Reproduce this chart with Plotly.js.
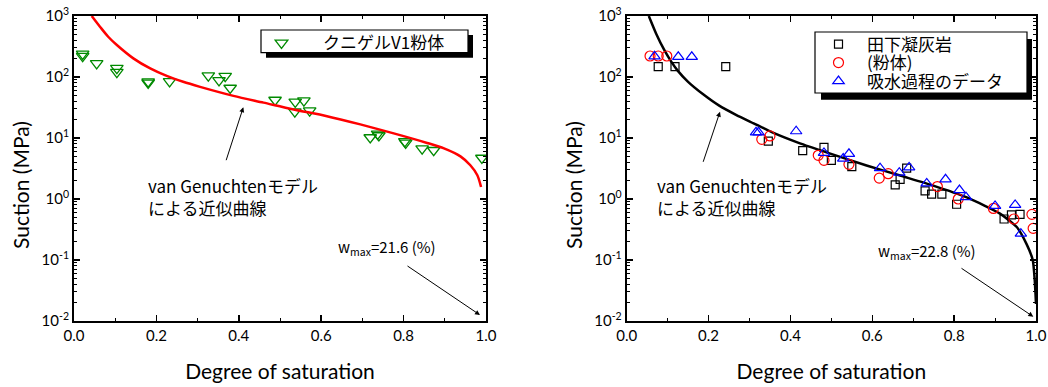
<!DOCTYPE html>
<html><head><meta charset="utf-8">
<script src="https://cdn.plot.ly/plotly-3.0.1.min.js"></script>
<style>html,body{margin:0;padding:0;background:#fff}</style>
</head><body>
<div id="chart" style="width:1048px;height:387px"></div>
<script>
// ---- data ----
const kunigelSat = [0.021,0.021,0.055,0.104,0.104,0.18,0.18,0.232,0.326,0.352,0.367,0.379,0.488,0.537,0.536,0.558,0.572,0.719,0.737,0.74,0.803,0.805,0.845,0.873,0.99];
const kunigelSuction = [240,220,167,140,120,84,80,85,105,88,103,66,42,39,27,41,28,10.2,11.7,11,8.8,8.3,6.7,6.3,4.7];
const vgLeftSat = [0.043,0.063,0.083,0.104,0.144,0.185,0.225,0.265,0.306,0.387,0.46,0.533,0.614,0.695,0.776,0.857,0.898,0.938,0.962,0.979,0.988];
const vgLeftSuction = [1000,668,457,334,202,138,104,83.4,69.0,49.1,38.0,29.4,22.8,16.7,11.9,8.3,6.76,5.0,3.57,2.45,1.57];

const tufSat = [0.077,0.118,0.242,0.346,0.43,0.482,0.50,0.55,0.656,0.668,0.684,0.729,0.745,0.77,0.806,0.922,0.94,0.961];
const tufSuction = [148,148,148,8.9,6.2,7.0,4.3,3.4,1.7,2.1,3.2,1.36,1.2,1.2,0.82,0.47,0.55,0.56];
const powderSat = [0.057,0.077,0.098,0.33,0.35,0.468,0.482,0.543,0.617,0.639,0.759,0.81,0.896,0.946,0.99,0.993];
const powderSuction = [221,221,221,9.5,10.8,5.2,4.3,3.7,2.2,2.6,1.6,1.0,0.7,0.47,0.56,0.33];
const wettingSat = [0.068,0.126,0.159,0.316,0.322,0.414,0.482,0.529,0.543,0.619,0.666,0.69,0.733,0.779,0.813,0.829,0.90,0.949,0.963];
const wettingSuction = [218,214,214,12.4,12.4,12.9,5.7,4.6,5.5,3.2,2.7,3.3,1.8,2.1,1.4,1.07,0.77,0.8,0.27];
const vgRightSat = [0.054,0.072,0.092,0.108,0.125,0.15,0.186,0.226,0.267,0.31,0.36,0.42,0.49,0.586,0.67,0.749,0.831,0.912,0.953,0.977,0.992,0.997,1.0];
const vgRightSuction = [1000,513,275,182,126,83.2,52.5,33.9,24.0,17.4,12.0,8.32,5.75,3.55,2.40,1.66,1.06,0.575,0.347,0.182,0.10,0.0457,0.019];

const xTickVals = [0,0.2,0.4,0.6,0.8,1.0];
const xTickText = ['0.0','0.2','0.4','0.6','0.8','1.0'];
const yTickVals = [0.01,0.1,1,10,100,1000];
const yTickText = ['10<sup>-2</sup>','10<sup>-1</sup>','10<sup>0</sup>','10<sup>1</sup>','10<sup>2</sup>','10<sup>3</sup>'];

const nameKunigel = 'クニゲルV1粉体';
const nameTuff = '田下凝灰岩';
const namePowder = '(粉体)';
const nameWetting = '吸水過程のデータ';
const xTitle = 'Degree of saturation';
const yTitle = 'Suction (MPa)';
const vgLabel = 'van Genuchtenモデル<br>による近似曲線';
const wLeft = 'w<sub>max</sub>=21.6 (%)';
const wRight = 'w<sub>max</sub>=22.8 (%)';

// ---- layout helpers ----
const W = 1048, H = 387;
const fx = p => p / W, fy = p => 1 - p / H;
const tickFont = {family: 'Lato, sans-serif', size: 15, color: '#000'};
const titleFont = {family: 'Lato, sans-serif', size: 21, color: '#000'};
const cjk = '"Noto Sans CJK JP", sans-serif';

function xAx(dom) {
  return {domain: dom, range: [0, 1], tickmode: 'array', tickvals: xTickVals, ticktext: xTickText,
    ticks: 'inside', ticklen: 6, tickwidth: 1.5, tickcolor: '#000',
    minor: {dtick: 0.1, ticks: 'inside', ticklen: 3, tickwidth: 1, tickcolor: '#000'},
    showline: true, linewidth: 2, linecolor: '#000', mirror: 'allticks',
    showgrid: false, zeroline: false, tickfont: tickFont,
    title: {text: xTitle, font: titleFont, standoff: 21}};
}
function yAx(dom, anchor) {
  return {domain: dom, anchor: anchor, type: 'log', range: [-2, 3], tickmode: 'array', tickvals: yTickVals, ticktext: yTickText,
    ticks: 'inside', ticklen: 6, tickwidth: 1.5, tickcolor: '#000',
    minor: {dtick: 'D1', ticks: 'inside', ticklen: 3, tickwidth: 1, tickcolor: '#000'},
    showline: true, linewidth: 2, linecolor: '#000', mirror: 'allticks',
    showgrid: false, zeroline: false, tickfont: tickFont};
}
const yDom = [fy(321), fy(16)];

const traces = [
  {x: kunigelSat, y: kunigelSuction, xaxis: 'x', yaxis: 'y', mode: 'markers', name: nameKunigel, legend: 'legend',
   marker: {symbol: 'triangle-down-open', size: 11, color: '#008a00', line: {width: 1.3}}},
  {x: vgLeftSat, y: vgLeftSuction, xaxis: 'x', yaxis: 'y', mode: 'lines', showlegend: false,
   line: {color: '#ff0000', width: 2.5, shape: 'spline', smoothing: 0.8}},
  {x: vgRightSat, y: vgRightSuction, xaxis: 'x2', yaxis: 'y2', mode: 'lines', showlegend: false,
   line: {color: '#000', width: 2.5, shape: 'spline', smoothing: 0.6}},
  {x: tufSat, y: tufSuction, xaxis: 'x2', yaxis: 'y2', mode: 'markers', name: nameTuff, legend: 'legend2',
   marker: {symbol: 'square-open', size: 8, color: '#000', line: {width: 1.2}}},
  {x: powderSat, y: powderSuction, xaxis: 'x2', yaxis: 'y2', mode: 'markers', name: namePowder, legend: 'legend3',
   marker: {symbol: 'circle-open', size: 10, color: '#ff0000', line: {width: 1.2}}},
  {x: wettingSat, y: wettingSuction, xaxis: 'x2', yaxis: 'y2', mode: 'markers', name: nameWetting, legend: 'legend4',
   marker: {symbol: 'triangle-up-open', size: 10, color: '#0000ff', line: {width: 1.2}}}
];

const legFont = {family: cjk, size: 17, color: '#000'};
function leg(xPx, yPx, iw) {
  return {x: fx(xPx), y: fy(yPx), xanchor: 'left', yanchor: 'middle', bgcolor: 'rgba(0,0,0,0)', borderwidth: 0,
          font: legFont, itemwidth: iw};
}
const layout = {
  width: W, height: H, margin: {l: 0, r: 0, t: 0, b: 0},
  paper_bgcolor: '#fff', plot_bgcolor: '#fff', showlegend: true,
  xaxis: xAx([fx(74), fx(486)]), yaxis: yAx(yDom, 'x'),
  xaxis2: xAx([fx(626.7), fx(1036)]), yaxis2: yAx(yDom, 'x2'),
  legend: leg(240, 43.3, 73),
  legend2: leg(810, 44.5, 47),
  legend3: leg(810, 63, 47),
  legend4: leg(810, 81.5, 47),
  shapes: [
    {type: 'rect', xref: 'paper', yref: 'paper', x0: fx(266), x1: fx(473), y0: fy(57.7), y1: fy(35), fillcolor: '#000', line: {width: 0}},
    {type: 'rect', xref: 'paper', yref: 'paper', x0: fx(261), x1: fx(468), y0: fy(52.7), y1: fy(30), fillcolor: '#fff', line: {color: '#000', width: 1.2}},
    {type: 'rect', xref: 'paper', yref: 'paper', x0: fx(821), x1: fx(1032), y0: fy(99.7), y1: fy(39), fillcolor: '#000', line: {width: 0}},
    {type: 'rect', xref: 'paper', yref: 'paper', x0: fx(815), x1: fx(1027), y0: fy(93), y1: fy(32), fillcolor: '#fff', line: {color: '#000', width: 1.2}}
  ],
  annotations: [
    {text: yTitle, xref: 'paper', yref: 'paper', x: fx(20), y: fy(185), xanchor: 'center', yanchor: 'middle', textangle: -90, showarrow: false, font: titleFont},
    {text: yTitle, xref: 'paper', yref: 'paper', x: fx(573), y: fy(185), xanchor: 'center', yanchor: 'middle', textangle: -90, showarrow: false, font: titleFont},
    {text: vgLabel, xref: 'paper', yref: 'paper', x: fx(146), y: fy(171), xanchor: 'left', yanchor: 'top', align: 'left', showarrow: false, font: {family: cjk, size: 17, color: '#000'}},
    {text: '', xref: 'paper', yref: 'paper', x: fx(243.3), y: fy(107.3), ax: -17.6, ay: 54.4, showarrow: true, arrowhead: 2, arrowsize: 1, arrowwidth: 1, arrowcolor: '#000'},
    {text: wLeft, xref: 'paper', yref: 'paper', x: fx(336), y: fy(248), xanchor: 'left', yanchor: 'middle', showarrow: false, font: {family: cjk, size: 15, color: '#000'}},
    {text: '', xref: 'paper', yref: 'paper', x: fx(480), y: fy(315), ax: -74, ay: -50, showarrow: true, arrowhead: 2, arrowsize: 1, arrowwidth: 1, arrowcolor: '#000'},
    {text: vgLabel, xref: 'paper', yref: 'paper', x: fx(655), y: fy(171), xanchor: 'left', yanchor: 'top', align: 'left', showarrow: false, font: {family: cjk, size: 17, color: '#000'}},
    {text: '', xref: 'paper', yref: 'paper', x: fx(720), y: fy(111.7), ax: -17.3, ay: 51.6, showarrow: true, arrowhead: 2, arrowsize: 1, arrowwidth: 1, arrowcolor: '#000'},
    {text: wRight, xref: 'paper', yref: 'paper', x: fx(876), y: fy(251), xanchor: 'left', yanchor: 'middle', showarrow: false, font: {family: cjk, size: 15, color: '#000'}},
    {text: '', xref: 'paper', yref: 'paper', x: fx(1033.3), y: fy(316.7), ax: -73.3, ay: -49.4, showarrow: true, arrowhead: 2, arrowsize: 1, arrowwidth: 1, arrowcolor: '#000'}
  ]
};
Plotly.newPlot('chart', traces, layout, {staticPlot: true, displayModeBar: false});
</script>
</body></html>
